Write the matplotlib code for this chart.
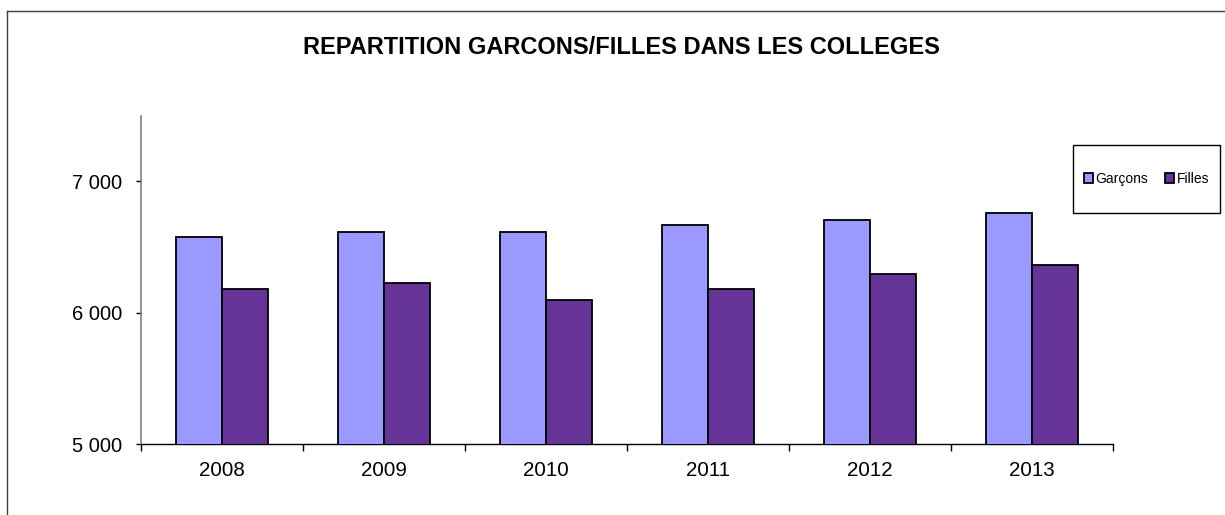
import matplotlib
matplotlib.use("Agg")
import matplotlib.pyplot as plt
from matplotlib.patches import Rectangle
from matplotlib.lines import Line2D
import numpy as np

years = ["2008", "2009", "2010", "2011", "2012", "2013"]
garcons = [6574, 6617, 6612, 6665, 6706, 6756]
filles = [6179, 6230, 6101, 6179, 6293, 6364]
series_names = ["Garçons", "Filles"]
title = "REPARTITION GARCONS/FILLES DANS LES COLLEGES"

plt.rcParams['font.family'] = ['Liberation Sans', 'DejaVu Sans']

W, H = 1225, 515
fig = plt.figure(figsize=(W / 100, H / 100), dpi=100)
fig.patch.set_facecolor("white")

# outer frame (left and top visible)
fig.add_artist(Line2D([7 / W, 7 / W], [0, 1 - 11 / H], color="#404040", lw=1.0))
fig.add_artist(Line2D([7 / W, 1.0], [1 - 11 / H, 1 - 11 / H], color="#404040", lw=1.0))

left, right = 141 / W, 1113 / W
bottom, top = 1 - 444.3 / H, 1 - 115.7 / H
ax = fig.add_axes([left, bottom, right - left, top - bottom])

x = np.arange(len(years))
bw = 0.284
ax.bar(x - bw / 2, garcons, width=bw, color="#9999FF", edgecolor="black", linewidth=1.3,
       label=series_names[0], zorder=3)
ax.bar(x + bw / 2, filles, width=bw, color="#663399", edgecolor="black", linewidth=1.3,
       label=series_names[1], zorder=3)

ax.set_xlim(-0.5, len(years) - 0.5)
ax.set_ylim(5000, 7500)
ax.set_yticks([5000, 6000, 7000])
ax.set_yticklabels(["5 000", "6 000", "7 000"])
ax.set_xticks(x)
ax.set_xticklabels(years)
ax.set_xticks(np.arange(len(years) + 1) - 0.5, minor=True)
ax.tick_params(axis="x", which="major", length=0, pad=12, labelsize=14.8)
ax.tick_params(axis="x", which="minor", length=5, width=1, color="black", direction="out")
ax.tick_params(axis="y", length=3.6, width=1, color="black", direction="out", pad=10, labelsize=14.5)

for s in ["top", "right"]:
    ax.spines[s].set_visible(False)
ax.spines["left"].set_color("#808080")
ax.spines["left"].set_linewidth(1.2)
ax.spines["bottom"].set_color("black")
ax.spines["bottom"].set_linewidth(1.0)

fig.text(621 / W, 1 - 48 / H, title, ha="center", va="center", fontsize=17, fontweight="bold")

# legend box
lx0, lx1, ly0, ly1 = 1073, 1220, 145, 213
fig.add_artist(Rectangle((lx0 / W, 1 - ly1 / H), (lx1 - lx0) / W, (ly1 - ly0) / H,
                         transform=fig.transFigure, facecolor="white", edgecolor="black", lw=1.0))
handles, labels = ax.get_legend_handles_labels()
leg = fig.legend(handles, labels, loc="center",
                 bbox_to_anchor=((lx0 + lx1) / 2 / W, 1 - (ly0 + ly1) / 2 / H),
                 ncol=2, frameon=False, fontsize=10, handlelength=0.65, handleheight=0.65,
                 handletextpad=0.2, columnspacing=1.2)

fig.savefig("out.png", dpi=100, facecolor="white")
